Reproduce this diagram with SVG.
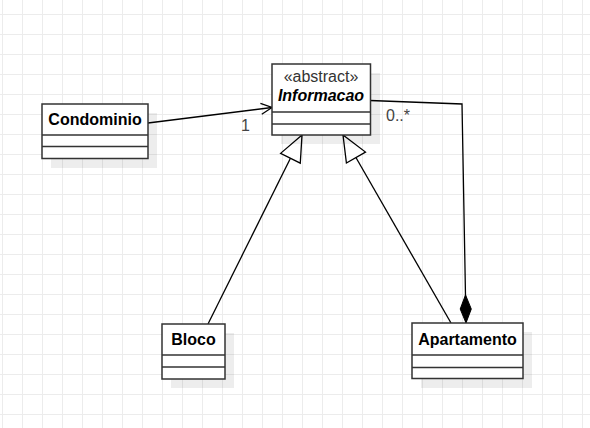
<svg xmlns="http://www.w3.org/2000/svg" width="590" height="428" viewBox="0 0 590 428">
  <style>
    .box { fill: #ffffff; stroke: #333333; stroke-width: 1.5; }
    .shadow { fill: #000000; opacity: 0.07; }
    .div { stroke: #333333; stroke-width: 1.5; }
    .title { font-family: "Liberation Sans", Arial, sans-serif; font-size: 16px; font-weight: bold; fill: #000000; text-anchor: middle; }
    .stereo { font-family: "Liberation Sans", Arial, sans-serif; font-size: 16px; fill: #333333; text-anchor: middle; }
    .label { font-family: "Liberation Sans", Arial, sans-serif; font-size: 16px; fill: #444444; }
    .edge { fill: none; stroke: #000000; stroke-width: 1.3; }
  </style>
  <defs>
    <pattern id="grid" width="20" height="20" patternUnits="userSpaceOnUse" x="2" y="14">
      <path d="M0,0.5 H20 M0.5,0 V20" fill="none" stroke="#ececec" stroke-width="1"/>
    </pattern>
    <marker id="openArrow" markerUnits="userSpaceOnUse" markerWidth="14" markerHeight="14" refX="11" refY="5.5" orient="auto" overflow="visible">
      <path d="M0,0 L11,5.5 L0,11" fill="none" stroke="#000" stroke-width="1.3"/>
    </marker>
    <marker id="hollowTri" markerUnits="userSpaceOnUse" markerWidth="30" markerHeight="24" refX="26" refY="11" orient="auto" overflow="visible">
      <path d="M0,0 L26,11 L0,22 Z" fill="#fff" stroke="#000" stroke-width="1.3"/>
    </marker>
    <marker id="diamond" markerUnits="userSpaceOnUse" markerWidth="30" markerHeight="14" refX="28" refY="5.5" orient="auto" overflow="visible">
      <path d="M0,5.5 L14,0 L28,5.5 L14,11 Z" fill="#000" stroke="#000" stroke-width="1"/>
    </marker>
  </defs>

  <!-- background grid -->
  <rect width="590" height="428" fill="#ffffff"/>
  <rect width="590" height="428" fill="url(#grid)"/>

  <!-- connectors -->
  <g id="connectors">
    <path class="edge" d="M148,123 L272,107.5" marker-end="url(#openArrow)"/>
    <text class="label" x="241" y="131">1</text>
    <path class="edge" d="M208,324 L302,135" marker-end="url(#hollowTri)"/>
    <path class="edge" d="M451,323 L343,135" marker-end="url(#hollowTri)"/>
    <path class="edge" d="M370,100.5 L462,104 L466,323" marker-end="url(#diamond)"/>
    <text class="label" x="386" y="121">0..*</text>
  </g>

  <!-- Informacao (abstract) -->
  <g id="informacao">
    <rect class="shadow" x="281" y="73" width="99" height="71"/>
    <rect class="box" x="272" y="64" width="98.5" height="71"/>
    <line class="div" x1="272" y1="112" x2="370.5" y2="112"/>
    <line class="div" x1="272" y1="124" x2="370.5" y2="124"/>
    <text class="stereo" x="321" y="81.5">«abstract»</text>
    <text class="title" x="321" y="100.5" font-style="italic">Informacao</text>
  </g>

  <!-- Condominio -->
  <g id="condominio">
    <rect class="shadow" x="51" y="113" width="106" height="55"/>
    <rect class="box" x="42" y="104" width="106" height="54.5"/>
    <line class="div" x1="42" y1="135" x2="148" y2="135"/>
    <line class="div" x1="42" y1="146.5" x2="148" y2="146.5"/>
    <text class="title" x="95" y="125">Condominio</text>
  </g>

  <!-- Bloco -->
  <g id="bloco">
    <rect class="shadow" x="171" y="333" width="63" height="55"/>
    <rect class="box" x="162" y="324" width="63" height="55"/>
    <line class="div" x1="162" y1="355" x2="225" y2="355"/>
    <line class="div" x1="162" y1="367" x2="225" y2="367"/>
    <text class="title" x="193.5" y="345">Bloco</text>
  </g>

  <!-- Apartamento -->
  <g id="apartamento">
    <rect class="shadow" x="421" y="332" width="111" height="56"/>
    <rect class="box" x="412" y="323" width="111" height="55.5"/>
    <line class="div" x1="412" y1="355" x2="523" y2="355"/>
    <line class="div" x1="412" y1="367.5" x2="523" y2="367.5"/>
    <text class="title" x="467.5" y="345">Apartamento</text>
  </g>
</svg>
